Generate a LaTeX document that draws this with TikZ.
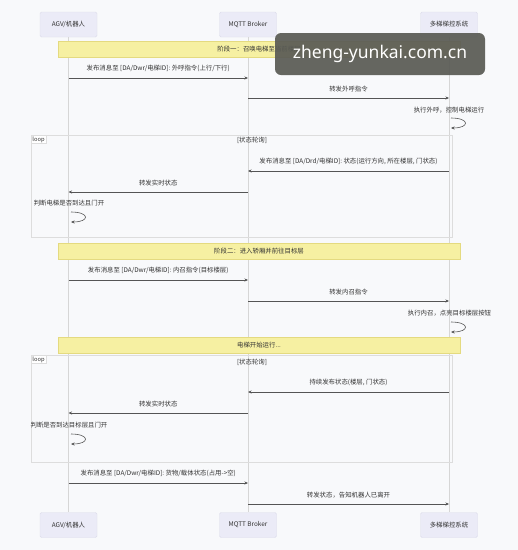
\documentclass[tikz,border=0pt]{standalone}
\usepackage{fontspec}
\setmainfont{Noto Sans CJK SC}
\newfontfamily\wmfont{Noto Sans}
\usetikzlibrary{arrows.meta}
\definecolor{bgc}{HTML}{F8F9FB}
\definecolor{actfill}{HTML}{EBEBF7}
\definecolor{actdraw}{HTML}{DCDCEA}
\definecolor{notefill}{HTML}{F6F0A2}
\definecolor{notedraw}{HTML}{E4DA80}
\definecolor{lifec}{HTML}{D6D6D6}
\definecolor{msgc}{HTML}{555555}
\definecolor{txtc}{HTML}{333333}
\definecolor{framec}{HTML}{DDDDDD}
\definecolor{wmc}{HTML}{5A5B55}
\tikzset{
  actor/.style={draw=actdraw, fill=actfill, rounded corners=1.5pt, minimum width=57pt, minimum height=25pt, inner sep=0pt, font=\fontsize{6.4}{7.5}\selectfont, text=txtc},
  notebox/.style={draw=notedraw, fill=notefill, minimum width=402pt, minimum height=16pt, inner sep=0pt, font=\fontsize{6.4}{7.5}\selectfont, text=txtc},
  lbl/.style={font=\fontsize{6.4}{7.5}\selectfont, text=txtc, inner sep=0pt},
  msg/.style={draw=msgc, line width=0.6pt, -{Stealth[length=3.5pt,width=3pt]}},
  life/.style={draw=lifec, line width=0.7pt},
  frame/.style={draw=framec, line width=0.6pt},
  looptag/.style={draw=framec, fill=white, font=\fontsize{5.8}{6.5}\selectfont, text=txtc, inner sep=1.2pt, anchor=north west},
}
\begin{document}
\begin{tikzpicture}[x=1pt,y=-1pt]
\fill[bgc] (0,0) rectangle (518,550);
\useasboundingbox (0,0) rectangle (518,550);
% actors
\node[actor] (a1) at (68.5,24.5) {AGV/机器人};
\node[actor] (b1) at (248,24.5) {MQTT Broker};
\node[actor] (c1) at (449,24.5) {多梯梯控系统};
\node[actor] (a2) at (68.5,525) {AGV/机器人};
\node[actor] (b2) at (248,525) {MQTT Broker};
\node[actor] (c2) at (449,525) {多梯梯控系统};
% lifelines
\draw[life] (a1) -- (a2);
\draw[life] (b1) -- (b2);
\draw[life] (c1) -- (c2);
% loop frames
\draw[frame] (31,135) rectangle (452,237);
\node[looptag] (lp1) at (31,135) {loop};
\node[lbl] (g1) at (252,140) {[状态轮询]};
\draw[frame] (31,355) rectangle (452,462);
\node[looptag] (lp2) at (31,355) {loop};
\node[lbl] (g2) at (252,362) {[状态轮询]};
% notes
\node[notebox] (n1) at (259,49) {阶段一：召唤电梯至当前楼层};
\node[notebox] (n2) at (259,251.5) {阶段二：进入轿厢并前往目标层};
\node[notebox] (n3) at (259,345) {电梯开始运行...};
% messages
\draw[msg] (a1 |- 0,78) -- (b1 |- 0,78) node[lbl, midway, above=6pt] (t1) {发布消息至 [DA/Dwr/电梯ID]: 外呼指令(上行/下行)};
\draw[msg] (b1 |- 0,98) -- (c1 |- 0,98) node[lbl, midway, above=6pt] (t2) {转发外呼指令};
\node[lbl] (s1) at (449,110) {执行外呼，控制电梯运行};
\draw[msg] (451,118) .. controls (470,118) and (470,128) .. (451,128);
\draw[msg] (c1 |- 0,171) -- (b1 |- 0,171) node[lbl, midway, above=6pt] (t3) {发布消息至 [DA/Drd/电梯ID]: 状态(运行方向, 所在楼层, 门状态)};
\draw[msg] (b1 |- 0,192) -- (a1 |- 0,192) node[lbl, midway, above=6pt] (t4) {转发实时状态};
\node[lbl] (s2) at (69,203) {判断电梯是否到达且门开};
\draw[msg] (71,212) .. controls (90,212) and (90,222) .. (71,222);
\draw[msg] (a1 |- 0,280) -- (b1 |- 0,280) node[lbl, midway, above=6pt] (t5) {发布消息至 [DA/Dwr/电梯ID]: 内召指令(目标楼层)};
\draw[msg] (b1 |- 0,301) -- (c1 |- 0,301) node[lbl, midway, above=6pt] (t6) {转发内召指令};
\node[lbl] (s3) at (449.5,313) {执行内召，点亮目标楼层按钮};
\draw[msg] (451,322) .. controls (470,322) and (470,332) .. (451,332);
\draw[msg] (c1 |- 0,392) -- (b1 |- 0,392) node[lbl, midway, above=6pt] (t7) {持续发布状态(楼层, 门状态)};
\draw[msg] (b1 |- 0,413) -- (a1 |- 0,413) node[lbl, midway, above=6pt] (t8) {转发实时状态};
\node[lbl] (s4) at (69,425) {判断是否到达目标层且门开};
\draw[msg] (71,434) .. controls (90,434) and (90,444) .. (71,444);
\draw[msg] (a1 |- 0,483) -- (b1 |- 0,483) node[lbl, midway, above=6pt] (t9) {发布消息至 [DA/Dwr/电梯ID]: 货物/载体状态(占用->空)};
\draw[msg] (b1 |- 0,504) -- (c1 |- 0,504) node[lbl, midway, above=6pt] (t10) {转发状态，告知机器人已离开};
% watermark
\node[fill=wmc, fill opacity=0.93, text opacity=1, text=white, rounded corners=6pt, minimum width=210pt, minimum height=42pt, font=\wmfont\fontsize{17.5}{20}\selectfont] (wm) at (380,54) {zheng-yunkai.com.cn};
\end{tikzpicture}
\end{document}
